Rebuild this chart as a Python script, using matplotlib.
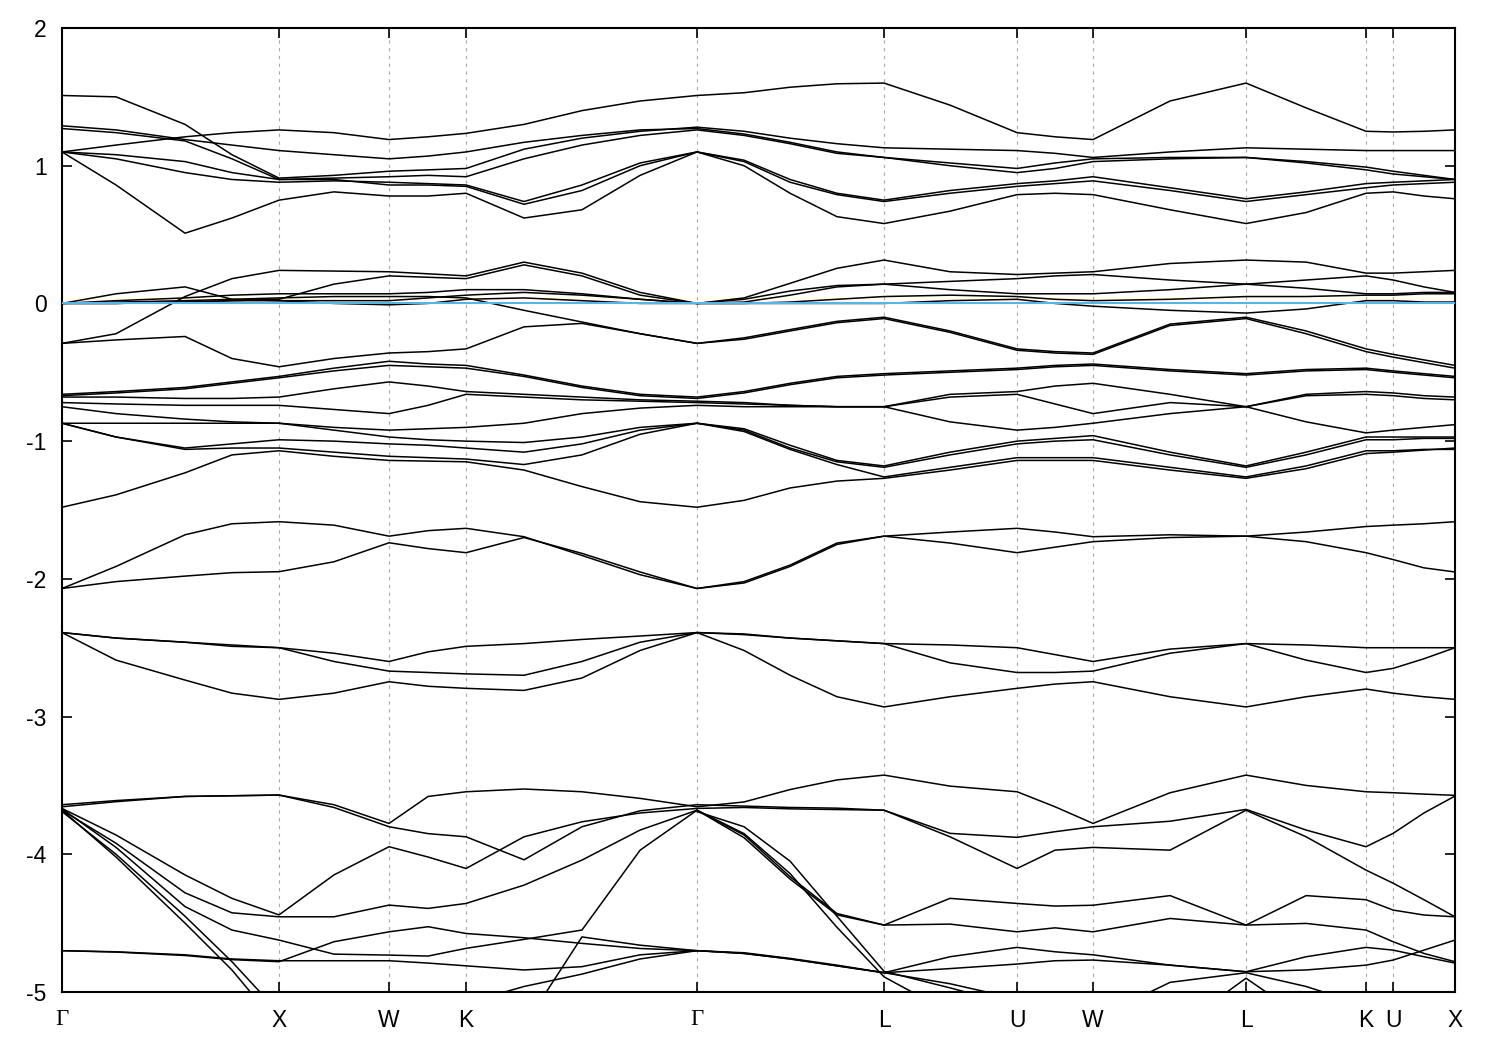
import numpy as np
import matplotlib
matplotlib.use("Agg")
import matplotlib.pyplot as plt

plt.rcParams['font.family'] = ['Liberation Sans', 'DejaVu Sans']
plt.rcParams['axes.unicode_minus'] = False

nan = float('nan')

# k-path sample points (path length, Gamma-X = 1)
k = [0, 0.249, 0.567, 0.783, 1.0, 1.253, 1.507, 1.687, 1.862, 2.129, 2.396, 2.664, 2.926,
     3.143, 3.355, 3.571, 3.788, 4.092, 4.401, 4.576, 4.751, 5.106, 5.456, 5.733, 6.009,
     6.134, 6.276, 6.419]

# high-symmetry points
kticks = [0, 1.0, 1.507, 1.862, 2.926, 3.788, 4.401, 4.751, 5.456, 6.009, 6.134, 6.419]
klabels = ['Γ', 'X', 'W', 'K', 'Γ', 'L', 'U', 'W', 'L', 'K', 'U', 'X']

# bands above E_F
b01 = [1.10, 1.15, 1.21, 1.24, 1.26, 1.24, 1.19, 1.21, 1.235, 1.30, 1.40, 1.47, 1.51, 1.53, 1.57, 1.595, 1.60, 1.44, 1.24, 1.21, 1.19, 1.47, 1.60, 1.42, 1.25, 1.245, 1.25, 1.26]
b02 = [1.51, 1.50, 1.30, 1.08, 0.91, 0.93, 0.96, 0.97, 0.98, 1.12, 1.20, 1.25, 1.28, 1.25, 1.20, 1.16, 1.13, 1.12, 1.11, 1.09, 1.06, 1.10, 1.13, 1.12, 1.11, 1.11, 1.11, 1.11]
b03 = [1.29, 1.26, 1.19, 1.15, 1.11, 1.08, 1.05, 1.07, 1.10, 1.17, 1.22, 1.26, 1.27, 1.23, 1.17, 1.10, 1.06, 1.02, 0.98, 1.02, 1.05, 1.06, 1.06, 1.03, 0.99, 0.96, 0.93, 0.90]
b04 = [1.27, 1.24, 1.18, 1.05, 0.90, 0.91, 0.92, 0.93, 0.92, 1.05, 1.15, 1.22, 1.26, 1.22, 1.16, 1.09, 1.06, 1.00, 0.95, 0.98, 1.03, 1.05, 1.06, 1.02, 0.97, 0.94, 0.92, 0.90]
b05 = [1.10, 1.05, 0.95, 0.90, 0.88, 0.89, 0.88, 0.87, 0.86, 0.74, 0.86, 1.02, 1.10, 1.04, 0.90, 0.80, 0.75, 0.82, 0.87, 0.89, 0.92, 0.84, 0.76, 0.81, 0.87, 0.88, 0.89, 0.90]
b06 = [1.10, 0.86, 0.51, 0.62, 0.75, 0.81, 0.78, 0.78, 0.80, 0.62, 0.68, 0.93, 1.10, 1.00, 0.80, 0.63, 0.58, 0.67, 0.79, 0.80, 0.79, 0.68, 0.58, 0.66, 0.80, 0.81, 0.78, 0.76]
b07 = [1.10, 1.08, 1.03, 0.95, 0.90, 0.90, 0.86, 0.86, 0.85, 0.72, 0.82, 1.00, 1.10, 1.03, 0.88, 0.79, 0.74, 0.80, 0.85, 0.87, 0.89, 0.82, 0.74, 0.79, 0.84, 0.86, 0.87, 0.88]

# bands around E_F
z01 = [0.0, 0.07, 0.12, 0.03, 0.02, 0.02, 0.02, 0.04, 0.06, 0.08, 0.06, 0.03, 0.0, 0.01, 0.06, 0.12, 0.14, 0.10, 0.07, 0.07, 0.07, 0.10, 0.14, 0.11, 0.07, 0.07, 0.08, 0.08]
z02 = [-0.29, -0.22, 0.05, 0.18, 0.24, 0.235, 0.23, 0.215, 0.20, 0.30, 0.22, 0.08, 0.0, 0.04, 0.146, 0.255, 0.315, 0.23, 0.21, 0.22, 0.23, 0.29, 0.315, 0.30, 0.22, 0.22, 0.23, 0.24]
z03 = [0.0, 0.02, 0.04, 0.06, 0.07, 0.07, 0.07, 0.08, 0.10, 0.10, 0.07, 0.03, 0.0, 0.03, 0.09, 0.13, 0.14, 0.16, 0.18, 0.20, 0.21, 0.17, 0.14, 0.17, 0.20, 0.17, 0.12, 0.08]
z04 = [0.0, 0.0, 0.01, 0.02, 0.03, 0.14, 0.20, 0.19, 0.18, 0.28, 0.20, 0.06, 0.0, 0.0, 0.0, 0.0, 0.0, 0.02, 0.03, 0.0, -0.02, -0.05, -0.07, -0.04, 0.02, 0.02, 0.01, 0.01]
z05 = [0.0, 0.0, 0.01, 0.02, 0.02, 0.0, -0.01, 0.0, 0.03, 0.04, 0.02, 0.0, 0.0, 0.0, 0.01, 0.03, 0.05, 0.06, 0.05, 0.03, 0.02, 0.03, 0.05, 0.05, 0.06, 0.06, 0.07, 0.07]
z06 = [-0.29, -0.265, -0.24, -0.40, -0.46, -0.40, -0.36, -0.35, -0.33, -0.17, -0.145, -0.22, -0.29, -0.25, -0.19, -0.13, -0.10, -0.20, -0.33, -0.35, -0.36, -0.15, -0.10, -0.20, -0.33, -0.37, -0.41, -0.45]
z07 = [0.0, 0.01, 0.02, 0.03, 0.04, 0.05, 0.05, 0.05, 0.04, -0.05, -0.135, -0.22, -0.29, -0.26, -0.20, -0.14, -0.11, -0.21, -0.34, -0.36, -0.37, -0.16, -0.11, -0.22, -0.35, -0.39, -0.43, -0.47]

# bands -0.4 .. -1.5
g01 = [-0.66, -0.64, -0.61, -0.57, -0.53, -0.47, -0.42, -0.44, -0.45, -0.52, -0.60, -0.66, -0.68, -0.64, -0.58, -0.53, -0.51, -0.49, -0.47, -0.45, -0.44, -0.48, -0.51, -0.48, -0.47, -0.49, -0.51, -0.53]
g02 = [-0.67, -0.65, -0.62, -0.58, -0.54, -0.49, -0.45, -0.46, -0.47, -0.53, -0.61, -0.67, -0.69, -0.65, -0.59, -0.54, -0.52, -0.50, -0.48, -0.46, -0.45, -0.49, -0.52, -0.49, -0.48, -0.50, -0.52, -0.54]
g03 = [-0.68, -0.68, -0.69, -0.69, -0.68, -0.62, -0.57, -0.60, -0.64, -0.66, -0.68, -0.70, -0.71, -0.72, -0.74, -0.75, -0.75, -0.66, -0.64, -0.60, -0.58, -0.66, -0.75, -0.66, -0.64, -0.65, -0.67, -0.68]
g04 = [-0.72, -0.73, -0.74, -0.74, -0.74, -0.77, -0.80, -0.74, -0.66, -0.68, -0.70, -0.71, -0.72, -0.73, -0.74, -0.75, -0.75, -0.68, -0.66, -0.73, -0.80, -0.72, -0.75, -0.67, -0.66, -0.67, -0.69, -0.70]
g05 = [-0.75, -0.80, -0.84, -0.86, -0.87, -0.90, -0.92, -0.91, -0.90, -0.87, -0.80, -0.76, -0.74, -0.75, -0.75, -0.75, -0.75, -0.86, -0.92, -0.90, -0.87, -0.80, -0.75, -0.86, -0.94, -0.92, -0.90, -0.88]
g06 = [-0.87, -0.97, -1.05, -1.02, -0.99, -1.00, -1.02, -1.03, -1.05, -1.08, -1.02, -0.92, -0.87, -0.92, -1.05, -1.15, -1.19, -1.10, -1.02, -1.00, -0.99, -1.10, -1.19, -1.10, -0.99, -0.99, -0.98, -0.98]
g07 = [-0.87, -0.87, -0.87, -0.87, -0.87, -0.92, -0.97, -0.99, -1.00, -1.01, -0.97, -0.90, -0.87, -0.91, -1.03, -1.14, -1.18, -1.08, -1.00, -0.98, -0.96, -1.08, -1.18, -1.08, -0.97, -0.97, -0.97, -0.97]
g08 = [-0.87, -0.97, -1.06, -1.05, -1.05, -1.08, -1.11, -1.12, -1.13, -1.17, -1.10, -0.95, -0.87, -0.93, -1.06, -1.17, -1.26, -1.19, -1.12, -1.12, -1.12, -1.19, -1.26, -1.18, -1.07, -1.07, -1.06, -1.06]
g09 = [-1.48, -1.39, -1.23, -1.10, -1.07, -1.11, -1.14, -1.145, -1.15, -1.21, -1.33, -1.44, -1.48, -1.43, -1.34, -1.29, -1.27, -1.21, -1.14, -1.14, -1.14, -1.21, -1.27, -1.20, -1.09, -1.08, -1.065, -1.05]

# bands -1.6 .. -2.1
m01 = [-2.07, -1.91, -1.68, -1.60, -1.585, -1.61, -1.69, -1.65, -1.633, -1.694, -1.83, -1.97, -2.07, -2.02, -1.90, -1.74, -1.69, -1.66, -1.633, -1.66, -1.694, -1.68, -1.69, -1.66, -1.62, -1.61, -1.60, -1.585]
m02 = [-2.07, -2.02, -1.98, -1.955, -1.948, -1.876, -1.738, -1.78, -1.81, -1.70, -1.815, -1.95, -2.07, -2.03, -1.91, -1.75, -1.69, -1.74, -1.81, -1.77, -1.73, -1.70, -1.69, -1.73, -1.81, -1.86, -1.92, -1.95]

# bands -2.4 .. -2.9
n01 = [-2.39, -2.43, -2.46, -2.49, -2.50, -2.54, -2.60, -2.53, -2.49, -2.47, -2.44, -2.415, -2.39, -2.405, -2.43, -2.45, -2.47, -2.48, -2.50, -2.55, -2.60, -2.51, -2.47, -2.48, -2.50, -2.50, -2.50, -2.50]
n02 = [-2.39, -2.43, -2.46, -2.48, -2.50, -2.60, -2.67, -2.68, -2.69, -2.70, -2.60, -2.46, -2.39, -2.40, -2.43, -2.45, -2.47, -2.61, -2.68, -2.68, -2.67, -2.54, -2.47, -2.59, -2.68, -2.65, -2.58, -2.50]
n03 = [-2.39, -2.59, -2.735, -2.83, -2.875, -2.83, -2.747, -2.78, -2.795, -2.81, -2.72, -2.52, -2.39, -2.52, -2.70, -2.856, -2.93, -2.856, -2.795, -2.764, -2.747, -2.856, -2.93, -2.856, -2.80, -2.83, -2.856, -2.875]

# bands -3.4 .. -5
v01 = [-3.655, -3.618, -3.58, -3.575, -3.57, -3.64, -3.776, -3.58, -3.546, -3.526, -3.546, -3.594, -3.655, -3.62, -3.53, -3.46, -3.425, -3.505, -3.546, -3.655, -3.776, -3.553, -3.425, -3.50, -3.546, -3.553, -3.563, -3.572]
v02 = [-3.64, -3.61, -3.58, -3.575, -3.57, -3.66, -3.80, -3.85, -3.873, -4.04, -3.80, -3.684, -3.64, -3.65, -3.66, -3.665, -3.68, -3.848, -3.877, -3.836, -3.80, -3.76, -3.674, -3.824, -3.945, -3.848, -3.70, -3.577]
v03 = [-3.667, -3.86, -4.15, -4.32, -4.44, -4.15, -3.945, -4.02, -4.103, -3.873, -3.764, -3.70, -3.667, -3.66, -3.67, -3.675, -3.68, -3.873, -4.103, -3.97, -3.95, -3.97, -3.68, -3.873, -4.115, -4.21, -4.33, -4.454]
v04 = [-3.68, -3.92, -4.28, -4.425, -4.454, -4.454, -4.369, -4.393, -4.357, -4.224, -4.042, -3.824, -3.68, -3.86, -4.163, -4.43, -4.514, -4.32, -4.357, -4.376, -4.37, -4.30, -4.514, -4.30, -4.33, -4.405, -4.441, -4.454]
v05 = [-3.67, -3.95, -4.38, -4.55, -4.623, -4.725, -4.732, -4.739, -4.683, -4.618, -4.55, -3.97, -3.68, -3.88, -4.18, -4.44, -4.514, -4.507, -4.563, -4.534, -4.563, -4.466, -4.514, -4.502, -4.55, -4.635, -4.72, -4.78]
v06 = [-3.68, -4.02, -4.50, -4.84, -5.25] + [nan] * 7 + [-3.68, -3.85, -4.14, -4.53, -4.89, -5.15] + [nan] * 10
v07 = [-3.69, -4.00, -4.45, -4.78, -5.15] + [nan] * 7 + [-3.69, -3.80, -4.05, -4.45, -4.85, -4.97, -5.10] + [nan] * 9
v08 = [-4.70, -4.708, -4.73, -4.76, -4.773, -4.773, -4.773, -4.79, -4.81, -4.84, -4.816, -4.73, -4.70, -4.715, -4.756, -4.805, -4.86, -4.744, -4.676, -4.708, -4.73, -4.805, -4.853, -4.744, -4.676, -4.696, -4.744, -4.79]
v09 = [-4.70, -4.71, -4.735, -4.765, -4.78, -4.635, -4.563, -4.526, -4.575, -4.606, -4.647, -4.684, -4.70, -4.72, -4.76, -4.81, -4.86, -4.83, -4.797, -4.773, -4.768, -4.805, -4.853, -4.84, -4.805, -4.768, -4.696, -4.623]
v10 = [nan] * 8 + [-5.08, -4.96, -4.87, -4.76, -4.70, -4.72, -4.76, -4.81, -4.86, -4.94, -5.05] + [nan] * 9
v11 = [nan] * 9 + [-5.25, -4.60, -4.66, -4.70] + [nan] * 15
v12 = [nan] * 20 + [-5.20, -4.93, -4.86, -4.96, -5.10] + [nan] * 3
v13 = [nan] * 21 + [-5.30, -4.90, -5.20] + [nan] * 4

bands = [b01, b02, b03, b04, b05, b06, b07,
         z01, z02, z03, z04, z05, z06, z07,
         g01, g02, g03, g04, g05, g06, g07, g08, g09,
         m01, m02, n01, n02, n03,
         v01, v02, v03, v04, v05, v06, v07, v08, v09, v10, v11, v12, v13]

fig = plt.figure(figsize=(15, 10.5), dpi=100)
ax = fig.add_axes([62/1500, 1 - 992/1050, (1455 - 62)/1500, (992 - 28)/1050])

for kk in kticks[1:-1]:
    ax.axvline(kk, color='#a8a8a8', lw=0.8, ls=(0, (3, 4)), zorder=0)

for band in bands:
    ax.plot(k, band, color='black', lw=1.1)

# Fermi level
ax.axhline(0, color='#56b4e9', lw=1.5, zorder=5)

ax.set_xlim(kticks[0], kticks[-1])
ax.set_ylim(-5, 2)
ax.set_xticks(kticks)
ax.set_xticklabels(klabels)
for lab in ax.get_xticklabels():
    if lab.get_text() == 'Γ':
        lab.set_fontfamily(['Liberation Serif', 'DejaVu Serif'])
        lab.set_fontsize(18)
ax.set_yticks([2, 1, 0, -1, -2, -3, -4, -5])
ax.tick_params(direction='in', length=7, width=1.2, top=True, right=True, labelsize=16.5)
ax.tick_params(axis='x', pad=12)
ax.tick_params(axis='y', pad=11)
for s in ax.spines.values():
    s.set_linewidth(1.5)

fig.savefig('out.png', dpi=100)
